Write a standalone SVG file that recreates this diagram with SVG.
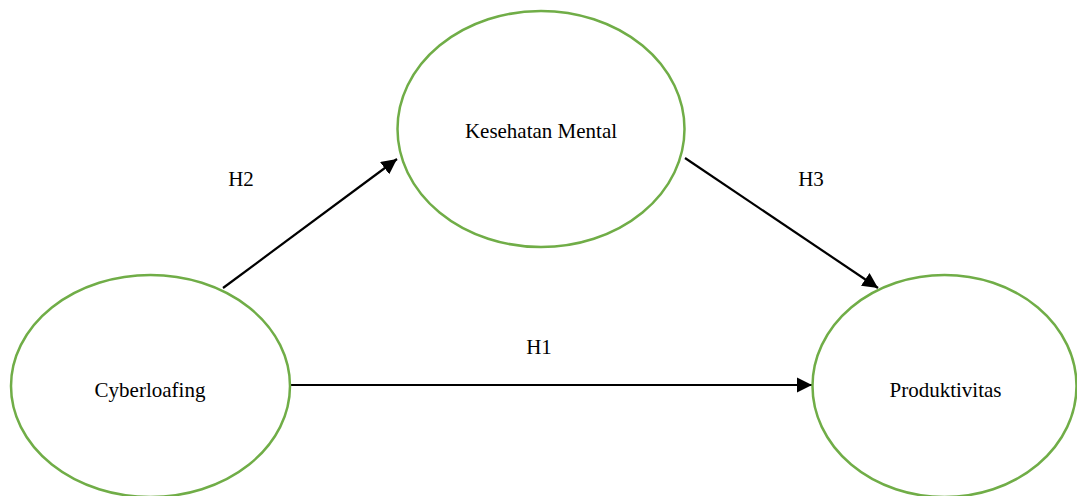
<svg xmlns="http://www.w3.org/2000/svg" width="1077" height="496" viewBox="0 0 1077 496">
<style>
.node{fill:#ffffff;stroke:#70ad47;stroke-width:2.5}
.lbl{font-family:'Liberation Serif','Times New Roman',Times,serif;font-size:21px;fill:#000000;text-anchor:middle}
.edge{stroke:#000000;stroke-width:2.2;fill:none}
</style>
<defs>
<marker id="arr" viewBox="0 0 10 10" refX="10" refY="5" markerWidth="7" markerHeight="7" markerUnits="strokeWidth" orient="auto">
<path d="M0,0 L10,5 L0,10 Z" fill="#000000"/>
</marker>
</defs>
<rect width="1077" height="496" fill="#ffffff"/>
<g id="connectors">
<line class="edge" x1="223" y1="288" x2="397" y2="159" marker-end="url(#arr)"/>
<line class="edge" x1="685" y1="158" x2="878" y2="288" marker-end="url(#arr)"/>
<line class="edge" x1="290" y1="385" x2="812" y2="385" marker-end="url(#arr)"/>
<text class="lbl" x="241" y="186">H2</text>
<text class="lbl" x="811" y="186">H3</text>
<text class="lbl" x="539" y="354">H1</text>
</g>
<g id="kesehatan">
<ellipse class="node" cx="541" cy="129" rx="143.5" ry="118"/>
<text class="lbl" x="541" y="138">Kesehatan Mental</text>
</g>
<g id="cyberloafing">
<ellipse class="node" cx="150.5" cy="386" rx="139.5" ry="111"/>
<text class="lbl" x="150" y="397">Cyberloafing</text>
</g>
<g id="produktivitas">
<ellipse class="node" cx="944.5" cy="386" rx="132" ry="111"/>
<text class="lbl" x="945.5" y="397">Produktivitas</text>
</g>
</svg>
